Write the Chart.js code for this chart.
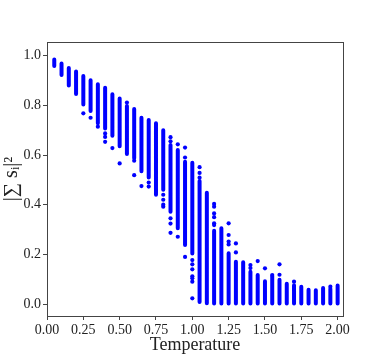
<!DOCTYPE html>
<html>
<head>
<meta charset="utf-8">
<script src="https://cdn.jsdelivr.net/npm/chart.js@4"></script>
<style>
  body { margin: 0; background: #fff; }
  #wrap { width: 382px; height: 356px; }
</style>
</head>
<body>
<div id="wrap"><canvas id="myChart" width="382" height="356"></canvas></div>
<script>
// temperatures sampled
let temps = [0.05, 0.10, 0.15, 0.20, 0.25, 0.30, 0.35, 0.40, 0.45, 0.50,
             0.55, 0.60, 0.65, 0.70, 0.75, 0.80, 0.85, 0.90, 0.95, 1.00,
             1.05, 1.10, 1.15, 1.20, 1.25, 1.30, 1.35, 1.40, 1.45, 1.50,
             1.55, 1.60, 1.65, 1.70, 1.75, 1.80, 1.85, 1.90, 1.95, 2.00];
// dense part of each column (top and bottom)
let coreHi = [0.985, 0.968, 0.950, 0.936, 0.918, 0.901, 0.885, 0.871, 0.845, 0.828,
              0.797, 0.785, 0.750, 0.741, 0.728, 0.700, 0.640, 0.620, 0.573, 0.569,
              0.495, 0.448, 0.295, 0.305, 0.205, 0.170, 0.168, 0.130, 0.117, 0.092,
              0.112, 0.098, 0.082, 0.076, 0.070, 0.058, 0.056, 0.065, 0.062, 0.075];
let coreLo = [0.958, 0.922, 0.880, 0.846, 0.803, 0.777, 0.728, 0.707, 0.678, 0.635,
              0.604, 0.587, 0.535, 0.510, 0.440, 0.460, 0.372, 0.305, 0.238, 0.204,
              0.008, 0.003, 0.002, 0.002, 0.002, 0.002, 0.002, 0.002, 0.002, 0.002,
              0.002, 0.002, 0.002, 0.002, 0.002, 0.002, 0.002, 0.002, 0.002, 0.002];
// separate points outside the dense part
let outT = [0.25, 0.30, 0.35, 0.40, 0.40, 0.40, 0.45, 0.50, 0.55, 0.60, 0.60,
            0.65, 0.70, 0.70, 0.80, 0.80, 0.80, 0.80, 0.85, 0.85, 0.85, 0.85, 0.85,
            0.90, 0.90, 0.95, 0.95, 0.95, 1.00, 1.00, 1.00, 1.00, 1.00, 1.00, 1.00,
            1.05, 1.05, 1.05, 1.15, 1.15, 1.15, 1.15, 1.15, 1.15,
            1.25, 1.25, 1.25, 1.25, 1.30, 1.30, 1.40, 1.40, 1.45, 1.50,
            1.55, 1.60, 1.60, 1.70, 1.95];
let outV = [0.768, 0.750, 0.714, 0.687, 0.673, 0.653, 0.628, 0.566, 0.811, 0.577, 0.519,
            0.475, 0.489, 0.473, 0.440, 0.420, 0.400, 0.392, 0.672, 0.655, 0.345, 0.324, 0.287,
            0.643, 0.271, 0.630, 0.590, 0.190, 0.177, 0.160, 0.140, 0.112, 0.104, 0.090, 0.023,
            0.551, 0.528, 0.509, 0.403, 0.392, 0.365, 0.350, 0.325, 0.318,
            0.325, 0.278, 0.252, 0.240, 0.244, 0.208, 0.157, 0.145, 0.173, 0.144,
            0.117, 0.160, 0.118, 0.090, 0.070];
let xTicks = [0, 0.25, 0.5, 0.75, 1.0, 1.25, 1.5, 1.75, 2.0];
let yTicks = [0, 0.2, 0.4, 0.6, 0.8, 1.0];

let blue = '#0000ff';
let serif = "'Liberation Serif', 'DejaVu Serif', serif";

let coreData = [];
for (var i = 0; i < temps.length; i++) {
    coreData.push({x: temps[i], y: coreLo[i]});
    coreData.push({x: temps[i], y: coreHi[i]});
    coreData.push({x: temps[i], y: null});
}
let outData = [];
for (var j = 0; j < outT.length; j++) {
    outData.push({x: outT[j], y: outV[j]});
}

// box round the plot area
const frame = {
    id: 'frame',
    afterDatasetsDraw(chart) {
        const a = chart.chartArea, c = chart.ctx;
        c.save();
        c.strokeStyle = '#444';
        c.lineWidth = 1;
        c.strokeRect(Math.round(a.left) + 0.5, Math.round(a.top) + 0.5,
                     Math.round(a.right - a.left), Math.round(a.bottom - a.top));
        c.restore();
    }
};

const ctx = document.getElementById('myChart').getContext('2d');
const myChart = new Chart(ctx, {
    type: 'scatter',
    data: {
        datasets: [{
            type: 'line',
            data: coreData,
            showLine: true,
            spanGaps: false,
            borderColor: blue,
            borderWidth: 4,
            borderCapStyle: 'round',
            pointRadius: 0,
            fill: false
        }, {
            data: outData,
            backgroundColor: blue,
            borderColor: blue,
            pointRadius: 2.1,
            borderWidth: 0
        }]
    },
    options: {
        responsive: false,
        animation: false,
        layout: {padding: {top: 42, right: 39, left: 0, bottom: 0}},
        plugins: {legend: {display: false}, tooltip: {enabled: false}},
        scales: {
            x: {
                type: 'linear',
                min: 0,
                max: 2.037,
                afterBuildTicks: function(s) { s.ticks = xTicks.map(v => ({value: v})); },
                afterFit: function(s) { s.height = 40; },
                grid: {display: true, drawOnChartArea: false, drawTicks: true, tickLength: 4, color: '#444'},
                border: {display: false},
                ticks: {
                    color: '#222', padding: 2, maxRotation: 0,
                    font: {family: serif, size: 14},
                    callback: v => v.toFixed(2)
                },
                title: {display: true, text: 'Temperature', color: '#222', padding: {top: 3, bottom: 0},
                        font: {family: serif, size: 18}}
            },
            y: {
                type: 'linear',
                min: -0.048,
                max: 1.055,
                afterBuildTicks: function(s) { s.ticks = yTicks.map(v => ({value: v})); },
                afterFit: function(s) { s.width = 47; },
                grid: {display: true, drawOnChartArea: false, drawTicks: true, tickLength: 4, color: '#444'},
                border: {display: false},
                ticks: {
                    color: '#222', padding: 2,
                    font: {family: serif, size: 14},
                    callback: v => v.toFixed(1)
                },
                title: {display: true, text: '|∑ sᵢ|²', color: '#222', padding: {top: 0, bottom: 0},
                        font: {family: serif, size: 20}}
            }
        }
    },
    plugins: [frame]
});
</script>
</body>
</html>
